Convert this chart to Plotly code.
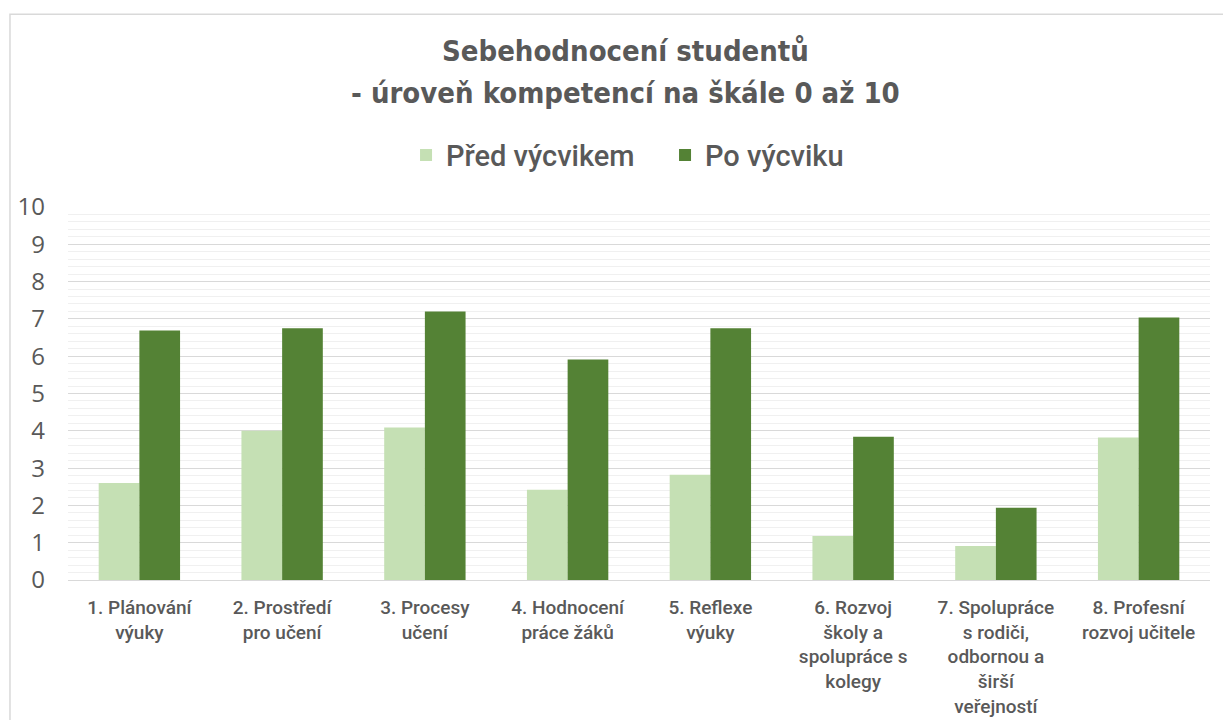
import plotly.graph_objects as go

categories = [
    "1. Plánování<br>výuky",
    "2. Prostředí<br>pro učení",
    "3. Procesy<br>učení",
    "4. Hodnocení<br>práce žáků",
    "5. Reflexe<br>výuky",
    "6. Rozvoj<br>školy a<br>spolupráce s<br>kolegy",
    "7. Spolupráce<br>s rodiči,<br>odbornou a<br>širší<br>veřejností",
    "8. Profesní<br>rozvoj učitele",
]
pred_vycvikem = [2.6, 4.0, 4.09, 2.42, 2.82, 1.18, 0.91, 3.82]
po_vycviku = [6.69, 6.75, 7.2, 5.91, 6.75, 3.84, 1.94, 7.04]
y_ticks = list(range(0, 11))
title_lines = ["Sebehodnocení studentů", "- úroveň kompetencí na škále 0 až 10"]

fig = go.Figure()
fig.add_trace(go.Bar(x=categories, y=pred_vycvikem, name="Před výcvikem",
                     marker=dict(color="#c5e0b4", line=dict(width=0))))
fig.add_trace(go.Bar(x=categories, y=po_vycviku, name="Po výcviku",
                     marker=dict(color="#548235", line=dict(width=0))))

title_font = dict(family="DejaVu Sans Condensed, Roboto", size=29, color="#595959")
annotations = [
    dict(text="<b>%s</b>" % title_lines[0], xref="paper", yref="paper",
         x=0.4886, y=1.418, xanchor="center", yanchor="middle",
         showarrow=False, font=title_font),
    dict(text="<b>%s</b>" % title_lines[1], xref="paper", yref="paper",
         x=0.4886, y=1.306, xanchor="center", yanchor="middle",
         showarrow=False, font=title_font),
]

fig.update_layout(
    width=1223, height=712,
    paper_bgcolor="white", plot_bgcolor="white",
    barmode="group", bargap=0.43, bargroupgap=0,
    margin=dict(l=60, r=21, t=199, b=140, autoexpand=False),
    annotations=annotations,
    legend=dict(
        orientation="h", x=0.296, xanchor="left", y=1.139, yanchor="middle",
        font=dict(family="Roboto", size=29, color="#595959", weight=500),
        itemwidth=30, entrywidth=214, traceorder="normal",
    ),
    xaxis=dict(
        tickfont=dict(family="Roboto", size=19, color="#595959", weight=500),
        showline=True, linecolor="#d9d9d9", linewidth=1,
        ticks="", showgrid=False, tickangle=0, automargin=False,
        ticklabelstandoff=10,
    ),
    yaxis=dict(
        range=[0, 10], tickvals=y_ticks, ticktext=[str(v) for v in y_ticks],
        tickfont=dict(family="Open Sans", size=24, color="#595959"),
        showgrid=True, gridcolor="#d9d9d9", gridwidth=1,
        zeroline=False, ticks="", automargin=False, ticklabelstandoff=22,
        minor=dict(dtick=0.2, showgrid=True, gridcolor="#f0f0f0", gridwidth=1),
    ),
    shapes=[dict(type="rect", xref="paper", yref="paper",
                 x0=-0.0508, x1=1.03, y0=-0.5, y1=1.517,
                 line=dict(color="#d9d9d9", width=1.5), fillcolor="rgba(0,0,0,0)",
                 layer="below")],
)

fig.write_html("out.html")
